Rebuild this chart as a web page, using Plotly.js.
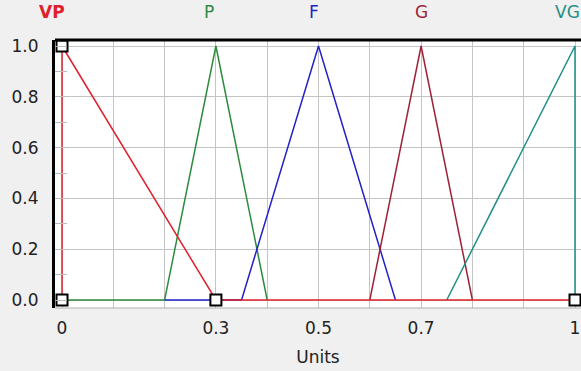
<!DOCTYPE html>
<html><head><meta charset="utf-8">
<script src="https://cdn.plot.ly/plotly-3.0.1.min.js"></script>
<style>html,body{margin:0;padding:0;background:#f0f0f0;}#chart{width:581px;height:371px;}</style>
</head><body><div id="chart"></div>
<script>
// Membership functions (x = Units, y = membership)
const vpX = [0, 0, 0.3, 1];
const vpY = [0, 1, 0, 0];
const pX = [0, 0.2, 0.3, 0.4];
const pY = [0, 0, 1, 0];
const fX = [0.2, 0.35, 0.5, 0.65];
const fY = [0, 0, 1, 0];
const gX = [0.6, 0.7, 0.8];
const gY = [0, 1, 0];
const vgX = [0.75, 1, 1];
const vgY = [0, 1, 0];
const labelNames = ['VP', 'P', 'F', 'G', 'VG'];
const labelPos = [0, 0.3, 0.5, 0.7, 1];
const xTickVals = [0, 0.3, 0.5, 0.7, 1];
const xTickText = ['0', '0.3', '0.5', '0.7', '1'];
const yTickVals = [0, 0.2, 0.4, 0.6, 0.8, 1.0];
const yTickText = ['0.0', '0.2', '0.4', '0.6', '0.8', '1.0'];

const colors = {VP: '#e0202a', P: '#2e8b3e', F: '#2222c8', G: '#9e2236', VG: '#1f8f86'};
const labelShift = [-10, -7, -5, 0, -8];
const FONT = 'DejaVu Sans, Liberation Sans, Arial, sans-serif';

const traces = [
  {x: pX, y: pY, mode: 'lines', line: {color: colors.P, width: 1.5}, cliponaxis: false},
  {x: fX, y: fY, mode: 'lines', line: {color: colors.F, width: 1.5}, cliponaxis: false},
  {x: gX, y: gY, mode: 'lines', line: {color: colors.G, width: 1.5}, cliponaxis: false},
  {x: vgX, y: vgY, mode: 'lines', line: {color: colors.VG, width: 1.5}, cliponaxis: false},
  {x: vpX, y: vpY, mode: 'lines+markers', line: {color: colors.VP, width: 1.5},
   marker: {symbol: 'square', size: 11, color: '#ffffff', line: {color: '#000000', width: 2}},
   cliponaxis: false}
];

const annotations = labelNames.map((n, i) => ({
  x: labelPos[i], xref: 'x', y: 1, yref: 'paper', yanchor: 'bottom', yshift: 16,
  xanchor: 'center', xshift: labelShift[i], showarrow: false, text: n,
  font: {family: FONT, size: 17, color: colors[n], weight: n === 'VP' ? 'bold' : 'normal'}
}));

const layout = {
  width: 581, height: 371,
  margin: {l: 55, r: 0, t: 40, b: 63},
  paper_bgcolor: '#f0f0f0', plot_bgcolor: '#ffffff',
  showlegend: false,
  font: {family: FONT, size: 17, color: '#222222'},
  xaxis: {
    range: [-7/513, 1 + 6/513], tickvals: xTickVals, ticktext: xTickText,
    showgrid: true, gridcolor: '#c4c4c4', gridwidth: 1, zeroline: false,
    ticks: '', ticklabelstandoff: 8, showline: false,
    minor: {dtick: 0.1, tick0: 0, showgrid: true, gridcolor: '#c4c4c4', gridwidth: 1},
    title: {text: 'Units', font: {family: FONT, size: 17, color: '#222222'}, standoff: 14}
  },
  yaxis: {
    range: [-8/254, 1 + 6/254], tickvals: yTickVals, ticktext: yTickText,
    showgrid: true, gridcolor: '#c4c4c4', gridwidth: 1, zeroline: false,
    ticks: '', ticklabelstandoff: 10,
    showline: true, linecolor: '#000000', linewidth: 3,
    minor: {dtick: 0.1, tick0: 0, ticks: 'inside', ticklen: 12, tickcolor: '#bbbbbb', tickwidth: 1, showgrid: false}
  },
  shapes: [
    {type: 'line', xref: 'paper', yref: 'paper', x0: 0, x1: 1, y0: 1, y1: 1, line: {color: '#000000', width: 3}},
    {type: 'line', xref: 'paper', yref: 'paper', x0: 0, x1: 1, y0: 0, y1: 0, line: {color: '#b0b0b0', width: 1}}
  ],
  annotations: annotations
};

Plotly.newPlot('chart', traces, layout, {displayModeBar: false, staticPlot: true});
</script>
</body></html>
